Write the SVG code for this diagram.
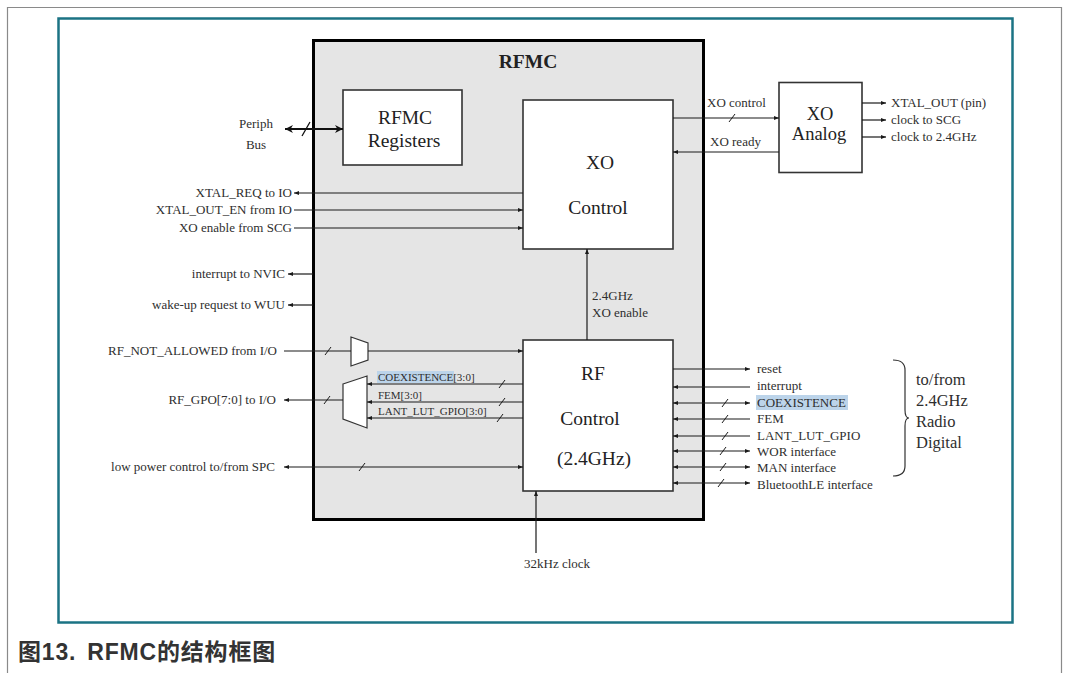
<svg xmlns="http://www.w3.org/2000/svg" width="1065" height="673" viewBox="0 0 1065 673">
<defs>
<style>
.t{font-family:"Liberation Serif",serif;font-size:13px;fill:#2e2e2e}
.s{font-family:"Liberation Serif",serif;font-size:11px;fill:#2e2e2e}
.big{font-family:"Liberation Serif",serif;font-size:19.5px;fill:#222}
.br{font-family:"Liberation Serif",serif;font-size:16.5px;fill:#2e2e2e}
.ln{stroke:#1a1a1a;stroke-width:1.2;fill:none}
.sl{stroke:#1a1a1a;stroke-width:1;fill:none}
.bx{fill:#fff;stroke:#333;stroke-width:1.6}
.hl{fill:#bcd4ea}
</style>
<marker id="a" viewBox="0 0 10 10" refX="10" refY="5" markerWidth="7" markerHeight="5" markerUnits="userSpaceOnUse" orient="auto-start-reverse"><path d="M0,1 L10,5 L0,9 z" fill="#1a1a1a"/></marker>
<marker id="ab" viewBox="0 0 10 10" refX="10" refY="5" markerWidth="11" markerHeight="8" markerUnits="userSpaceOnUse" orient="auto-start-reverse"><path d="M0,0 L10,5 L0,10 L3,5 z" fill="#111"/></marker>
</defs>
<rect width="1065" height="673" fill="#fff"/>
<path d="M7.5,680 V7.5 H1061.5 V680" fill="none" stroke="#8a8a8a" stroke-width="1.2"/>
<rect x="58.5" y="18.5" width="954" height="604" fill="#fff" stroke="#1b7384" stroke-width="2.5"/>
<text x="18" y="660" font-family="Liberation Sans,'Noto Sans CJK SC',sans-serif" font-weight="bold" font-size="23" letter-spacing="0.8" word-spacing="4" fill="#333">图13. RFMC的结构框图</text>

<g id="rfmc">
<rect x="313.5" y="40.5" width="390" height="479" fill="#e5e5e5" stroke="#000" stroke-width="3"/>
<text x="528" y="68" text-anchor="middle" class="big" font-weight="bold">RFMC</text>
</g>
<g id="registers">
<rect x="343" y="90" width="119" height="75" class="bx"/>
<text x="405" y="124" text-anchor="middle" class="big">RFMC</text>
<text x="404" y="147" text-anchor="middle" class="big">Registers</text>
</g>
<g id="xo-control">
<rect x="523" y="100" width="150" height="149" class="bx"/>
<text x="600" y="169" text-anchor="middle" class="big">XO</text>
<text x="598" y="214" text-anchor="middle" class="big">Control</text>
</g>
<g id="rf-control">
<rect x="523" y="340" width="150" height="151" class="bx"/>
<text x="593" y="380" text-anchor="middle" class="big">RF</text>
<text x="590" y="425" text-anchor="middle" class="big">Control</text>
<text x="594" y="465" text-anchor="middle" class="big">(2.4GHz)</text>
</g>
<g id="xo-analog">
<rect x="779" y="82.5" width="83" height="90" class="bx"/>
<text x="820" y="119.5" text-anchor="middle" class="big" style="font-size:18.5px">XO</text>
<text x="819" y="140" text-anchor="middle" class="big" style="font-size:18.5px">Analog</text>
</g>
<g id="mux1">
<polygon points="351,337 368,343 368,360 351,366" fill="#fff" stroke="#333" stroke-width="1.2"/>
</g>
<g id="mux2">
<polygon points="343,384 367,376 367,428 343,419" fill="#fff" stroke="#333" stroke-width="1.2"/>
</g>

<g id="labels">
<text x="256" y="128" text-anchor="middle" class="t">Periph</text>
<text x="256" y="149" text-anchor="middle" class="t">Bus</text>
<text x="292" y="197" text-anchor="end" class="t">XTAL_REQ to IO</text>
<text x="292" y="214" text-anchor="end" class="t">XTAL_OUT_EN from IO</text>
<text x="292" y="232" text-anchor="end" class="t">XO enable from SCG</text>
<text x="285" y="278" text-anchor="end" class="t">interrupt to NVIC</text>
<text x="285" y="309" text-anchor="end" class="t">wake-up request to WUU</text>
<text x="277" y="355" text-anchor="end" class="t">RF_NOT_ALLOWED from I/O</text>
<text x="276" y="404" text-anchor="end" class="t">RF_GPO[7:0] to I/O</text>
<text x="275" y="471" text-anchor="end" class="t">low power control to/from SPC</text>
<rect x="377" y="371" width="77" height="12" class="hl"/>
<text x="378" y="381" class="s">COEXISTENCE[3:0]</text>
<text x="378" y="399" class="s">FEM[3:0]</text>
<text x="378" y="415" class="s">LANT_LUT_GPIO[3:0]</text>
<text x="592" y="300" class="t">2.4GHz</text>
<text x="592" y="317" class="t">XO enable</text>
<text x="524" y="568" class="t">32kHz clock</text>
<text x="707" y="107" class="t">XO control</text>
<text x="710" y="146" class="t">XO ready</text>
<text x="891" y="107" class="t">XTAL_OUT (pin)</text>
<text x="891" y="124" class="t">clock to SCG</text>
<text x="891" y="141" class="t">clock to 2.4GHz</text>
<text x="757" y="373" class="t">reset</text>
<text x="757" y="390" class="t">interrupt</text>
<rect x="756" y="395" width="92" height="15" class="hl"/>
<text x="757" y="407" class="t">COEXISTENCE</text>
<text x="757" y="423" class="t">FEM</text>
<text x="757" y="440" class="t">LANT_LUT_GPIO</text>
<text x="757" y="456" class="t">WOR interface</text>
<text x="757" y="472" class="t">MAN interface</text>
<text x="757" y="489" class="t">BluetoothLE interface</text>
<path d="M893,360 Q905,360 905,370 L905,410 Q905,418 909,418 Q905,418 905,426 L905,466 Q905,476 893,476" fill="none" stroke="#333" stroke-width="1.2"/>
<text x="916" y="385" class="br">to/from</text>
<text x="916" y="406" class="br">2.4GHz</text>
<text x="916" y="427" class="br">Radio</text>
<text x="916" y="448" class="br">Digital</text>
</g>

<g id="connectors">
<path d="M285,129 H343" stroke="#111" stroke-width="2.2" fill="none" marker-start="url(#ab)" marker-end="url(#ab)"/>
<path d="M302,136 L310,122" stroke="#111" stroke-width="1.3" fill="none"/>
<path d="M523,193 H294" class="ln" marker-end="url(#a)"/>
<path d="M294,210 H523" class="ln" marker-end="url(#a)"/>
<path d="M294,228 H523" class="ln" marker-end="url(#a)"/>
<path d="M313,274 H288" class="ln" marker-end="url(#a)"/>
<path d="M313,305 H288" class="ln" marker-end="url(#a)"/>
<path d="M284,351 H351" class="ln"/>
<path d="M325,355 L331,347" class="sl"/>
<path d="M368,351 H523" class="ln" marker-end="url(#a)"/>
<path d="M343,400 H284" class="ln" marker-end="url(#a)"/>
<path d="M324,404 L330,396" class="sl"/>
<path d="M523,384 H367" class="ln" marker-end="url(#a)"/>
<path d="M499,388 L505,380" class="sl"/>
<path d="M523,402 H367" class="ln" marker-end="url(#a)"/>
<path d="M499,406 L505,398" class="sl"/>
<path d="M523,418 H367" class="ln" marker-end="url(#a)"/>
<path d="M497,422 L503,414" class="sl"/>
<path d="M284,467 H523" class="ln" marker-start="url(#a)" marker-end="url(#a)"/>
<path d="M359,471 L365,463" class="sl"/>
<path d="M587,340 V249" class="ln" marker-end="url(#a)"/>
<path d="M536,553 V491" class="ln" marker-end="url(#a)"/>
<path d="M673,118 H779" class="ln" marker-end="url(#a)"/>
<path d="M729,122 L735,114" class="sl"/>
<path d="M779,152 H673" class="ln" marker-end="url(#a)"/>
<path d="M862,103 H886" class="ln" marker-end="url(#a)"/>
<path d="M862,120 H886" class="ln" marker-end="url(#a)"/>
<path d="M862,137 H886" class="ln" marker-end="url(#a)"/>
<path d="M673,369 H750" class="ln" marker-end="url(#a)"/>
<path d="M750,387 H673" class="ln" marker-end="url(#a)"/>
<path d="M673,403 H750" class="ln" marker-start="url(#a)" marker-end="url(#a)"/>
<path d="M722,407 L728,399" class="sl"/>
<path d="M750,419 H673" class="ln" marker-end="url(#a)"/>
<path d="M722,423 L728,415" class="sl"/>
<path d="M750,436 H673" class="ln" marker-end="url(#a)"/>
<path d="M722,440 L728,432" class="sl"/>
<path d="M673,451 H750" class="ln" marker-start="url(#a)" marker-end="url(#a)"/>
<path d="M720,455 L726,447" class="sl"/>
<path d="M673,467 H750" class="ln" marker-start="url(#a)" marker-end="url(#a)"/>
<path d="M720,471 L726,463" class="sl"/>
<path d="M673,483 H750" class="ln" marker-start="url(#a)" marker-end="url(#a)"/>
<path d="M718,487 L724,479" class="sl"/>
</g>
</svg>
